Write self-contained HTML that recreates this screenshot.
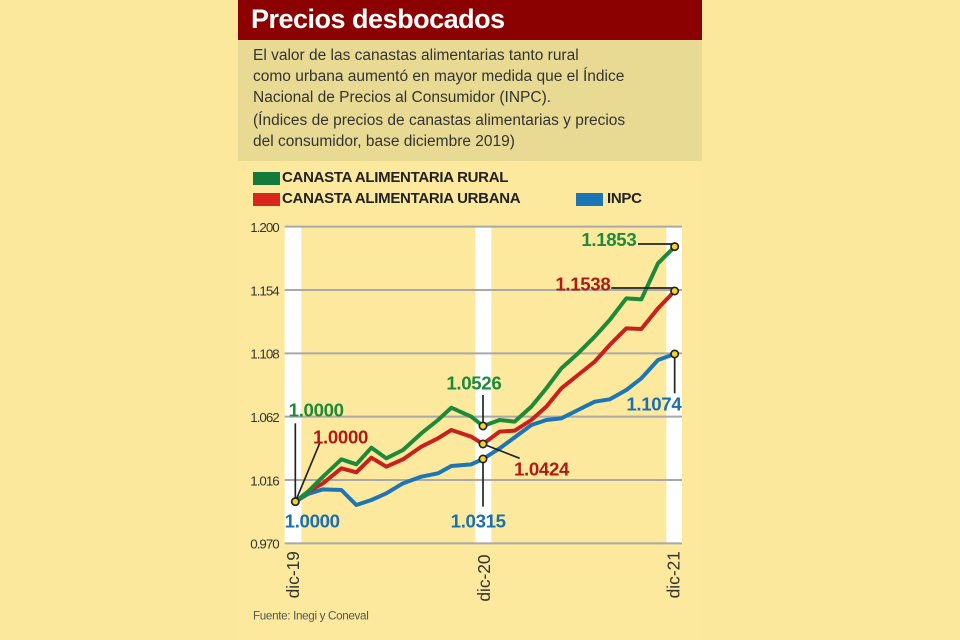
<!DOCTYPE html>
<html><head><meta charset="utf-8"><style>
body{margin:0;width:960px;height:640px;background:#fbe89c;position:relative;overflow:hidden;font-family:"Liberation Sans",sans-serif}
.hd{position:absolute;left:238px;top:0;width:464px;height:40px;background:#8b0000}
.hd span{position:absolute;left:13px;top:4px;color:#fff;font-weight:bold;font-size:27px;letter-spacing:-0.5px}
.sb{position:absolute;left:238px;top:40px;width:464px;height:121px;background:#e8da93;color:#333;font-size:15.5px;line-height:21px}
.sb p{margin:0;position:absolute;left:15px}
.panel{position:absolute;left:238px;top:161px;width:464px;height:479px;background:#fce99e}
.lg{position:absolute;font-weight:bold;font-size:15px;color:#222;letter-spacing:-0.3px}
.sw{position:absolute;width:27px;height:13px}
</style></head><body>
<div class="panel"></div>
<div class="hd"><span>Precios desbocados</span></div>
<div class="sb">
<p style="top:5px">El valor de las canastas alimentarias tanto rural<br>como urbana aumentó en mayor medida que el Índice<br>Nacional de Precios al Consumidor (INPC).</p>
<p style="top:70px">(Índices de precios de canastas alimentarias y precios<br>del consumidor, base diciembre 2019)</p>
</div>
<div class="sw" style="left:253px;top:172px;background:#137a3c"></div>
<div class="lg" style="left:282px;top:169px">CANASTA ALIMENTARIA RURAL</div>
<div class="sw" style="left:253px;top:193px;background:#d9261c"></div>
<div class="lg" style="left:282px;top:190px">CANASTA ALIMENTARIA URBANA</div>
<div class="sw" style="left:576px;top:193px;background:#1c75b5"></div>
<div class="lg" style="left:607px;top:190px">INPC</div>
<svg style="position:absolute;left:238px;top:220px" width="470" height="420" viewBox="0 0 1410 1260">
<g fill="#fff"><rect x="140" y="20" width="50" height="950"/><rect x="712" y="20" width="48" height="950"/><rect x="1285" y="20" width="47" height="950"/></g>
<g stroke="#a9a9a9" stroke-width="6"><line x1="140" y1="20" x2="1332" y2="20"/><line x1="140" y1="210" x2="1332" y2="210"/><line x1="140" y1="400" x2="1332" y2="400"/><line x1="140" y1="590" x2="1332" y2="590"/><line x1="140" y1="780" x2="1332" y2="780"/><line x1="140" y1="970" x2="1332" y2="970"/></g>
<g font-size="40" fill="#333" text-anchor="end" letter-spacing="-3"><text x="122" y="36">1.200</text><text x="122" y="226">1.154</text><text x="122" y="416">1.108</text><text x="122" y="606">1.062</text><text x="122" y="796">1.016</text><text x="122" y="986">0.970</text></g>
<g font-size="52" fill="#333"><text transform="translate(183,1135) rotate(-90)">dic-19</text><text transform="translate(756,1145) rotate(-90)">dic-20</text><text transform="translate(1325,1135) rotate(-90)">dic-21</text></g>
<g fill="none" stroke-width="12" stroke-linejoin="round">
<polyline stroke="#1c75b5" points="172,845 210,822 255,808 310,810 355,855 400,840 445,820 495,790 550,770 600,760 640,738 700,733 735,717 785,685 830,652 880,615 925,600 970,595 1020,570 1070,545 1115,538 1165,510 1210,475 1260,420 1310,402"/>
<polyline stroke="#c8201a" points="172,845 210,815 255,790 310,745 355,757 400,713 445,740 495,718 550,680 600,655 640,630 700,650 735,672 785,635 830,632 880,600 925,560 970,505 1020,465 1070,425 1115,375 1165,325 1210,327 1260,265 1310,213"/>
<polyline stroke="#1d8a3a" points="172,845 210,815 255,770 310,718 355,733 400,683 445,715 495,690 550,640 600,600 640,563 700,590 735,618 785,600 830,605 880,560 925,505 970,445 1020,400 1070,350 1115,300 1165,235 1210,238 1260,130 1310,80"/>
</g>
<g stroke="#222" stroke-width="5" fill="none">
<line x1="172" y1="845" x2="172" y2="610"/><line x1="172" y1="845" x2="245" y2="670"/>
<line x1="735" y1="618" x2="735" y2="525"/><line x1="735" y1="672" x2="845" y2="715"/><line x1="735" y1="717" x2="735" y2="860"/>
<line x1="1200" y1="72" x2="1310" y2="72"/><line x1="1120" y1="204" x2="1310" y2="204"/><line x1="1310" y1="402" x2="1310" y2="520"/>
</g>
<g fill="#f5d426" stroke="#222" stroke-width="5">
<circle cx="172" cy="845" r="11"/><circle cx="735" cy="618" r="11"/><circle cx="735" cy="672" r="11"/><circle cx="735" cy="717" r="11"/><circle cx="1310" cy="80" r="11"/><circle cx="1310" cy="213" r="11"/><circle cx="1310" cy="402" r="11"/>
</g>
<g font-size="56" font-weight="bold" letter-spacing="-1">
<text x="152" y="590" fill="#1d8a3a">1.0000</text>
<text x="225" y="670" fill="#b01a14">1.0000</text>
<text x="140" y="922" fill="#1c6fae">1.0000</text>
<text x="625" y="508" fill="#1d8a3a">1.0526</text>
<text x="828" y="766" fill="#b01a14">1.0424</text>
<text x="638" y="922" fill="#1c6fae">1.0315</text>
<text x="1030" y="78" fill="#1d8a3a">1.1853</text>
<text x="952" y="212" fill="#b01a14">1.1538</text>
<text x="1165" y="572" fill="#1c6fae">1.1074</text>
</g>
<text x="45" y="1198" font-size="35" fill="#555" letter-spacing="-1">Fuente: Inegi y Coneval</text>
</svg>
</body></html>
